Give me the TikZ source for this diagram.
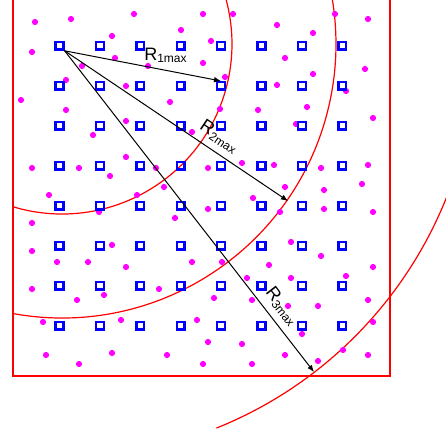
\documentclass[tikz,border=0pt]{standalone}
\usepackage{fontspec}
\setmainfont{Liberation Sans}
\usetikzlibrary{arrows.meta,calc}

\definecolor{zonered}{RGB}{255,0,0}
\definecolor{usermag}{RGB}{255,0,255}
\definecolor{antblue}{RGB}{0,0,255}
\newcommand{\rmaxlabel}[1]{R\raisebox{-1.4pt}{\fontsize{6}{6}\selectfont #1max}}

\begin{document}
\begin{tikzpicture}[x=0.5pt,y=-0.5pt,
    ant/.style={draw=antblue,line width=1.2pt,minimum size=3.9pt,inner sep=0pt},
    user/.style={circle,fill=usermag,inner sep=0pt,minimum size=3.1pt},
    zone/.style={draw=zonered,line width=0.6pt},
    reach/.style={-{Latex[length=3.5pt,width=2.8pt]},line width=0.5pt,black},
    lbl/.style={font=\fontsize{9}{9}\selectfont,text=black}]
  \useasboundingbox (0,0) rectangle (446,437);
  \clip (0,0) rectangle (446,437);
  % area and coverage zones
  \coordinate (o) at (62,44);
  \draw[zone,line width=0.75pt] (13.2,-5) rectangle (389.8,376);
  \draw[zone] ([shift={(106.6:170)}]o) arc[start angle=106.6,end angle=-30,radius=170];
  \draw[zone] ([shift={(100.2:274)}]o) arc[start angle=100.2,end angle=-30,radius=274];
  \draw[zone] ([shift={(68.1:414)}]o) arc[start angle=68.1,end angle=-5,radius=414];
  % users
  \foreach \px/\py [count=\k] in {35/22,71/19,134/14,203/14,112/36,181/30,211/41,32/52,
      115/58,148/66,203/63,82/66,66/80,126/86,21/100,170/102,66/110,220/109,126/121,
      93/135,192/132,126/157,32/168,79/168,110/176,156/168,208/168,164/187,49/195,
      137/195,99/212,175/218,208/209,
      233/14,277/25,335/14,368/19,313/33,285/58,225/77,365/69,277/85,313/74,346/91,
      258/110,307/107,296/124,373/118,242/163,274/165,321/168,368/165,285/187,
      324/190,362/184,253/198,280/212,324/209,373/212,
      32/223,32/251,112/245,57/262,88/262,126/267,192/262,222/262,32/289,77/300,
      104/295,159/289,214/298,43/322,121/320,197/320,208/342,46/355,79/364,
      112/353,167/355,203/364,
      291/242,321/256,269/265,373/267,346/276,247/278,291/278,252/300,288/306,
      318/306,368/300,373/322,302/334,242/344,285/355,343/350,368/355,252/364,318/361}
    \node[user] (u\k) at (\px,\py) {};
  % antennas
  \foreach \i in {0,...,7}
    \foreach \j in {0,...,7}
      \node[ant] (a\i\j) at (59.5+40.4*\i,45.7+40*\j) {};
  % radii
  \coordinate (t1) at (221,81);
  \coordinate (t2) at (288,201);
  \coordinate (t3) at (314,372);
  \draw[reach] (a00.south east) -- (t1) node[lbl,pos=0.645,above] {\rmaxlabel{1}};
  \draw[reach] (a00.south east) -- (t2) node[lbl,pos=0.655,sloped,above] {\rmaxlabel{2}};
  \draw[reach] (a00.south east) -- (t3) node[lbl,pos=0.824,sloped,above] {\rmaxlabel{3}};
\end{tikzpicture}
\end{document}
